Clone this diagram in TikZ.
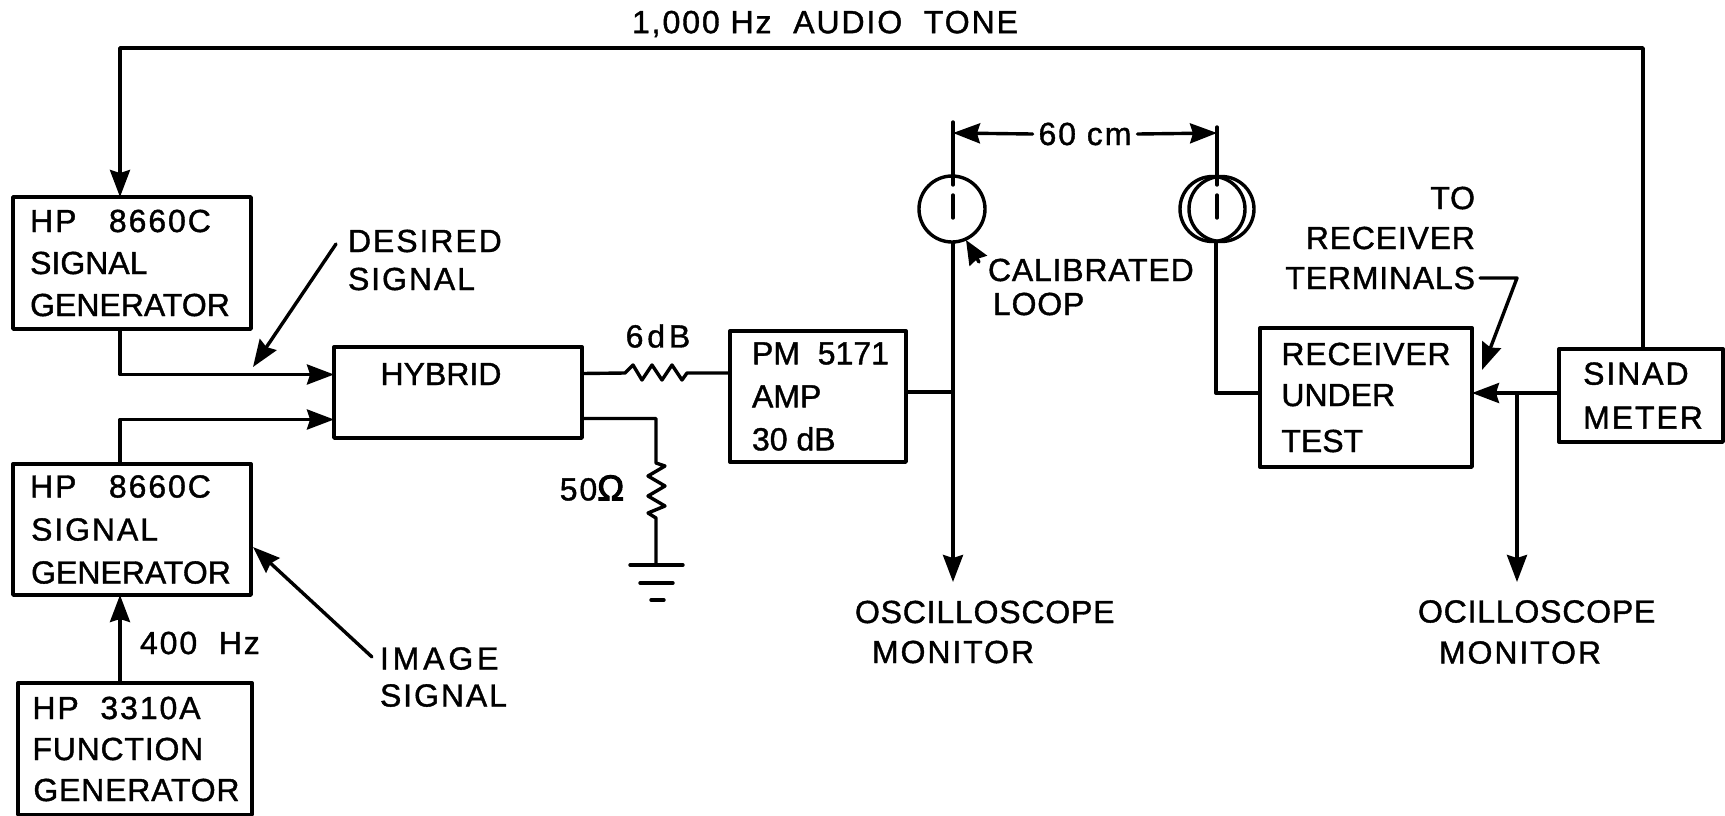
\documentclass[tikz,border=0pt]{standalone}
\usepackage{fontspec}
\setmainfont[FakeBold=1.2]{Liberation Sans}
\usetikzlibrary{arrows.meta}
\newfontfamily\midfont[LetterSpace=2.5,FakeBold=1.2]{Liberation Sans}
\newfontfamily\widefont[LetterSpace=6,FakeBold=1.2]{Liberation Sans}
\newfontfamily\widerfont[LetterSpace=12,FakeBold=1.2]{Liberation Sans}
\newfontfamily\omegafont[FakeBold=3]{Liberation Sans}
\newcommand\lab[1]{\fontsize{32}{#1}\selectfont}
\tikzset{
  every node/.style={outer sep=0pt},
  ln/.style={line width=3.4pt,line cap=round,line join=round,black},
  arr/.style={ln,-{Stealth[length=27pt,width=20pt,inset=3pt]}},
  blk/.style={draw,ln,anchor=north west,inner xsep=0pt,inner ysep=0pt,align=left},
  txt/.style={inner sep=0pt,font=\lab{42}},
}
\begin{document}
\begin{tikzpicture}[x=1pt,y=-1pt]
\useasboundingbox (0,0) rectangle (1725,815);
% boxes
\node[blk,minimum width=238,minimum height=132,font=\lab{42}] (gena) at (13,197)
  {\hspace*{17pt}{\widefont HP\ \ \ 8660C}\hspace*{16pt}\\\hspace*{17pt}SIGNAL\\\hspace*{17pt}GENERATOR\hspace*{21pt}};
\node[blk,minimum width=238,minimum height=131,font=\lab{43}] (genb) at (13,464)
  {\hspace*{17pt}{\widefont HP\ \ \ 8660C}\hspace*{16pt}\\\hspace*{18pt}{\widefont SIGNAL}\\\hspace*{18pt}GENERATOR\hspace*{20pt}};
\node[blk,minimum width=234,minimum height=132,font=\lab{41}] (fgen) at (18,683)
  {\hspace*{14pt}{\widefont HP\ \ 3310A}\hspace*{26pt}\\\hspace*{14pt}{\midfont FUNCTION}\\\hspace*{15pt}{\midfont GENERATOR}\hspace*{12pt}};
\node[draw,ln,anchor=north west,minimum width=248,minimum height=91] (hybrid) at (334,347) {};
\node[txt] (hybridtext) at (441,374) {HYBRID};
\node[blk,minimum width=176,minimum height=131,font=\lab{43}] (pm) at (730,331)
  {\hspace*{22pt}PM\ \ 5171\hspace*{17pt}\\\hspace*{22pt}AMP\\\hspace*{22pt}30 dB};
\node[blk,minimum width=212,minimum height=139,font=\lab{41}] (rcv) at (1260,328)
  {\hspace*{20pt}{\midfont RECEIVER}\hspace*{20pt}\\\hspace*{20pt}UNDER\\[5pt]\hspace*{20pt}TEST};
\node[blk,minimum width=164,minimum height=93,font={\widefont\lab{44}}] (sinad) at (1559,349)
  {\hspace*{24pt}SINAD\\\hspace*{24pt}METER\hspace*{20pt}};
% loops
\node[draw,ln,circle,minimum size=66pt,inner sep=0pt] (loopa) at (952,209) {};
\node[draw,ln,circle,minimum size=65pt,inner sep=0pt] (loopb) at (1212.5,209) {};
\node[draw,ln,circle,minimum size=65pt,inner sep=0pt] (loopc) at (1221.5,209) {};
% free ends
\coordinate (topl) at (120,48);
\coordinate (loopatop) at (953,122);
\coordinate (loopbtop) at (1217,127);
\coordinate (loopamid) at (953,185);
\coordinate (loopbmid) at (1217,185);
\coordinate (tickatop) at (953,195);
\coordinate (tickabot) at (953,218);
\coordinate (tickbtop) at (1217,195);
\coordinate (tickbbot) at (1217,218);
\coordinate (loopalow) at (953,243);
\coordinate (loopblow) at (1216,243);
\coordinate (scopea) at (953,582);
\coordinate (scopeb) at (1517,582);
\coordinate (branch) at (1517,393);
% labels
\node[txt,font={\widefont\lab{42}}] (tone) at (825,24) {1,000 Hz\ \ AUDIO\ \ TONE};
\node[txt,anchor=west,align=left,font={\widefont\lab{38}}] (desired) at (348,260) {DESIRED\\SIGNAL};
\node[txt,anchor=west,align=left,font={\widefont\lab{37}}] (image) at (380,677) {{\widerfont IMAGE}\\SIGNAL};
\node[txt,anchor=west,font={\widefont\lab{42}}] (fourh) at (140,643) {400\ \ Hz};
\node[txt,font={\widerfont\lab{42}}] (sixdb) at (658,336) {6dB};
\node[txt,font={\widefont\lab{42}}] (fifty) at (592,488) {50{\omegafont\fontsize{36}{42}\selectfont Ω}};
\node[txt,font={\widefont\lab{42}}] (sixty) at (1085,134) {60 cm};
\node[txt,anchor=west,align=left,font={\midfont\lab{34}}] (calib) at (988,287) {CALIBRATED\\\hspace*{5pt}LOOP};
\node[txt,anchor=east,align=right,font={\midfont\lab{40}}] (term) at (1475,238) {TO\\RECEIVER\\TERMINALS};
\node[txt,anchor=west,align=left,font={\widefont\lab{40}}] (oscopea) at (855,632) {{\midfont OSCILLOSCOPE}\\\hspace*{17pt}MONITOR};
\node[txt,anchor=west,align=left,font={\widefont\lab{41}}] (oscopeb) at (1418,632) {{\midfont OCILLOSCOPE}\\\hspace*{21pt}MONITOR};
% connectors
\draw[arr] ([xshift=2pt]sinad.north) |- (topl) -- ([xshift=-12pt]gena.north);
\draw[arr] ([xshift=-12pt]gena.south) |- ([yshift=18pt]hybrid.west);
\draw[arr] ([xshift=-12pt]genb.north) |- ([yshift=-27pt]hybrid.west);
\draw[arr] ([xshift=-15pt]fgen.north) -- ([xshift=-12pt]genb.south);
% desired / image pointers
\coordinate (dtail) at (336,244);
\coordinate (dtip) at (253,367);
\coordinate (itail) at (372,657);
\coordinate (itip) at (253,547);
\draw[arr] (dtail) -- (dtip);
\draw[arr] (itail) -- (itip);
% 6 dB resistor
\coordinate (ra) at (625,373);
\coordinate (rb) at (687,373);
\draw[ln] ([yshift=19pt]hybrid.east) -- (ra) -- (633,365) -- (642,380) -- (652,365) -- (662,380) -- (672,365) -- (682,380) -- (rb) -- ([yshift=23.5pt]pm.west);
% 50 ohm to ground
\coordinate (ga) at (656,463);
\coordinate (gb) at (656,518);
\coordinate (gc) at (656,565);
\draw[ln] ([yshift=-26pt]hybrid.east) -| (ga) -- (665,466) -- (648,476) -- (665,486) -- (648,496) -- (665,506) -- (648,513) -- (gb) -- (gc);
\draw[ln] (630,565) -- (683,565);
\draw[ln] (640,583) -- (673,583);
\draw[ln] (651,600) -- (664,600);
% amp and loop a
\draw[ln] ([yshift=4.5pt]pm.east) -- ([yshift=4.5pt]pm.east -| loopalow);
\draw[ln] (loopatop) -- (loopamid);
\draw[ln] (tickatop) -- (tickabot);
\draw[arr] (loopalow) -- (scopea);
% loop b and receiver
\draw[ln] (loopbtop) -- (loopbmid);
\draw[ln] (tickbtop) -- (tickbbot);
\draw[ln] (loopblow) |- ([yshift=4.5pt]rcv.west);
% dimension
\coordinate (dima) at (953,133);
\coordinate (dimb) at (1217,133);
\draw[arr] ([xshift=-6pt]sixty.west) -- (dima);
\draw[arr] ([xshift=6pt]sixty.east) -- (dimb);
% calibrated pointer
\coordinate (caltail) at (979,262);
\coordinate (caltip) at (966,240);
\draw[ln,-{Stealth[length=24pt,width=20pt,inset=2pt]}] (caltail) -- (caltip);
% sinad to receiver
\draw[arr] ([yshift=2.5pt]sinad.west) -- ([yshift=4.5pt]rcv.east);
\draw[arr] (branch) -- (scopeb);
% terminals pointer
\coordinate (ptstart) at (1480,278);
\coordinate (ptmid) at (1517,278);
\coordinate (pttip) at (1482,370);
\draw[arr] (ptstart) -- (ptmid) -- (pttip);
\end{tikzpicture}
\end{document}
